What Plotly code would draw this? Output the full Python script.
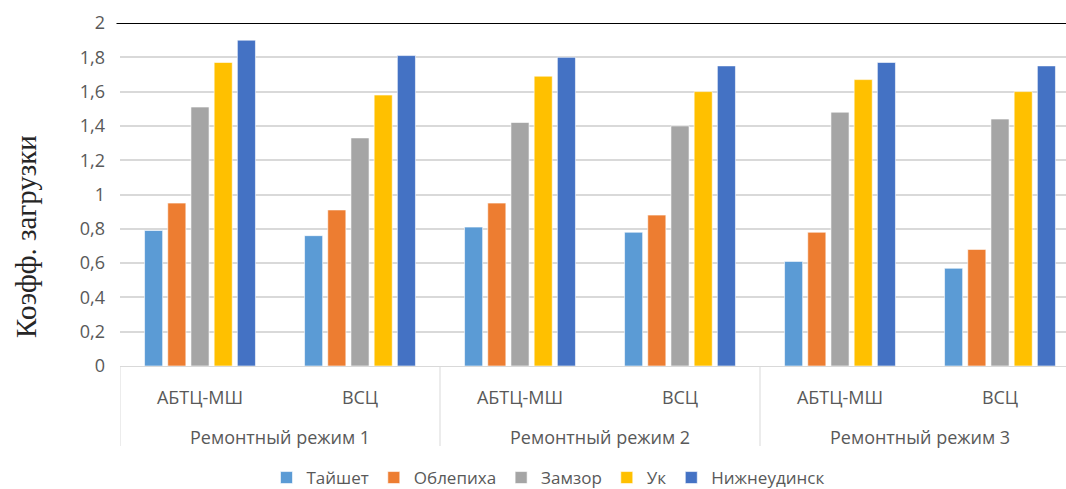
import plotly.graph_objects as go

# Load-factor values per emergency regime and scheme
regimes = ["Ремонтный режим 1", "Ремонтный режим 2", "Ремонтный режим 3"]
schemes = ["АБТЦ-МШ", "ВСЦ", "АБТЦ-МШ", "ВСЦ", "АБТЦ-МШ", "ВСЦ"]

taishet = [0.79, 0.76, 0.81, 0.78, 0.61, 0.57]
oblepikha = [0.95, 0.91, 0.95, 0.88, 0.78, 0.68]
zamzor = [1.51, 1.33, 1.42, 1.40, 1.48, 1.44]
uk = [1.77, 1.58, 1.69, 1.60, 1.67, 1.60]
nizhneudinsk = [1.90, 1.81, 1.80, 1.75, 1.77, 1.75]

series_names = ["Тайшет", "Облепиха", "Замзор", "Ук", "Нижнеудинск"]
series_values = [taishet, oblepikha, zamzor, uk, nizhneudinsk]
colors = ["#5B9BD5", "#ED7D31", "#A5A5A5", "#FFC000", "#4472C4"]

y_ticks = [0, 0.2, 0.4, 0.6, 0.8, 1, 1.2, 1.4, 1.6, 1.8, 2]

W, H = 1066, 489
L, T, B, R = 120, 23, 123, 0
plot_w = W - L - R
plot_h = H - T - B
cat_px = 160  # pixel width of one category slot

x_pos = list(range(len(schemes)))


def py(pixel_y):
    """Convert a page pixel row to paper y."""
    return (H - B - pixel_y) / plot_h


fig = go.Figure()
for name, vals, col in zip(series_names, series_values, colors):
    fig.add_trace(go.Bar(
        x=x_pos, y=vals, name=name,
        marker=dict(color=col, line=dict(color="rgba(255,255,255,0.6)", width=1)),
    ))

grey_text = "#595959"
tick_font = dict(family="Open Sans", size=18, color=grey_text)

# Category frame: outer edges and separators between regimes
shapes = [dict(type="line", xref="paper", yref="y",
               x0=-3.5 / plot_w, x1=1, y0=2, y1=2,
               line=dict(color="black", width=2))]
for xv in [-0.5, 1.5, 3.5, 5.5]:
    shapes.append(dict(type="line", xref="x", yref="paper",
                       x0=xv, x1=xv, y0=0, y1=py(446),
                       line=dict(color="#d9d9d9", width=1)))

annotations = [dict(
    text="Коэфф. загрузки", textangle=-90,
    xref="paper", yref="paper",
    x=-(L - 26) / plot_w, xanchor="center",
    y=py(237), yanchor="middle",
    showarrow=False,
    font=dict(family="Liberation Serif", size=29, color="#262626"),
)]
for i, reg in enumerate(regimes):
    annotations.append(dict(
        text=reg, xref="x", yref="paper",
        x=2 * i + 0.5, y=py(437), xanchor="center", yanchor="middle",
        showarrow=False, font=tick_font,
    ))

fig.update_layout(
    width=W, height=H,
    margin=dict(l=L, r=R, t=T, b=B, autoexpand=False),
    paper_bgcolor="white", plot_bgcolor="white",
    separators=", ",
    barmode="group", bargap=0.275, bargroupgap=0.22,
    font=tick_font,
    legend=dict(
        orientation="h", x=(548 - L) / plot_w, xanchor="center",
        y=py(478), yanchor="middle",
        font=dict(family="Open Sans", size=17, color=grey_text),
        itemwidth=30, traceorder="normal",
    ),
    xaxis=dict(
        range=[-0.5, -0.5 + plot_w / cat_px],
        tickvals=x_pos, ticktext=schemes,
        showline=True, linecolor="#d9d9d9", linewidth=1,
        showgrid=False, zeroline=False, ticks="",
        tickfont=tick_font, ticklabelstandoff=15,
        automargin=False,
    ),
    yaxis=dict(
        range=[0, 2], tickvals=y_ticks,
        showgrid=True, gridcolor="#d9d9d9", gridwidth=1.5,
        zeroline=False, showline=False,
        tickfont=tick_font, ticklabelstandoff=14,
        automargin=False,
    ),
    shapes=shapes,
    annotations=annotations,
)

fig.write_html("out.html")
